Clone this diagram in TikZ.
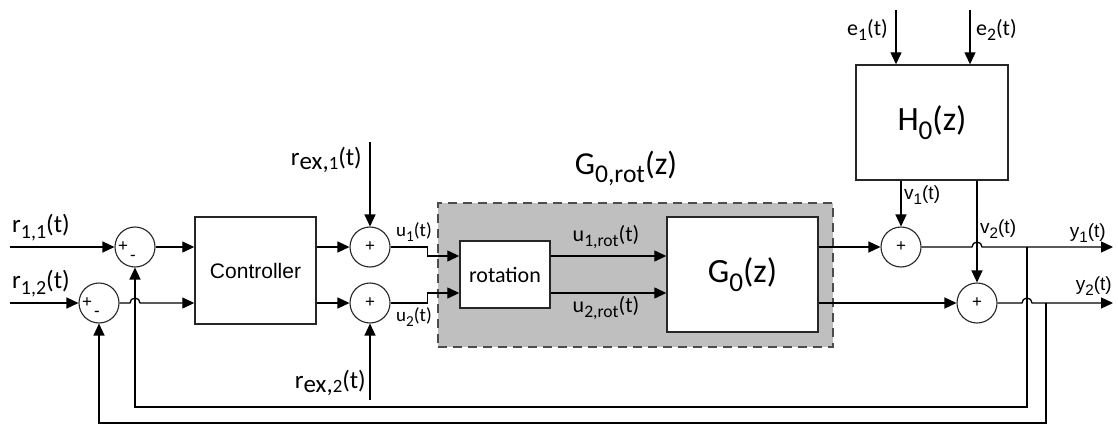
\documentclass[tikz,border=0pt]{standalone}
\usepackage{fontspec}
\setmainfont{Carlito}
\newfontfamily\arialfont{Liberation Sans}
\usetikzlibrary{arrows.meta, positioning, calc}

\newcommand{\fsz}[1]{\fontsize{#1}{#1}\selectfont}
\newcommand{\dn}[1]{\raisebox{-0.25em}{\scalebox{0.8}{#1}}}

\begin{document}
\begin{tikzpicture}[x=1pt, y=-1pt,
  blk/.style={draw=black!85, line width=1.4pt, fill=white, inner sep=0pt},
  sumnode/.style={draw=black!85, circle, line width=1.1pt, minimum size=40pt, inner sep=0pt, fill=white},
  sig/.style={line width=1.3pt, -{Triangle[length=12pt,width=11pt]}},
  sgn/.style={font=\arialfont\fsz{17}, inner sep=0pt},
  lbl/.style={inner sep=0pt}]
  \useasboundingbox (0,0) rectangle (1118,425);
  % shaded group
  \node[draw=black!70, fill=black!25, line width=1.6pt, dash pattern=on 9pt off 6pt,
        minimum width=395pt, minimum height=144pt] (grp) at (635.5,275) {};
  \node[lbl, font=\fsz{32}] at (626,168) {G\dn{0,rot}(z)};
  % blocks
  \node[blk, minimum width=121pt, minimum height=107pt, font=\arialfont\fsz{21}] (ctrl) at (255.5,270.5) {Controller};
  \node[blk, minimum width=90pt, minimum height=67pt, font=\fsz{22}] (rot) at (505,274.5) {rotation};
  \node[blk, minimum width=151pt, minimum height=115pt, font=\fsz{34}] (g0) at (742.5,274.5) {G\dn{0}(z)};
  \node[blk, minimum width=152pt, minimum height=115pt, font=\fsz{34}] (h0) at (932,122.5) {H\dn{0}(z)};
  % summing junctions
  \foreach \nm/\x/\y in {d11/135/247, d12/99/303, a1/370/247, a2/370/303, b1/901/247, b2/977/303}
    \node[sumnode] (\nm) at (\x,\y) {};
  \foreach \nm in {a1, a2, b1, b2}
    \node[sgn] at (\nm) {+};
  \foreach \nm in {d11, d12} {
    \node[sgn] at ([xshift=-12pt]\nm.center) {+};
    \node[sgn] at ([xshift=-2pt,yshift=-11pt]\nm.center) {-};
  }
  % reference inputs
  \coordinate (r11) at (10,247);
  \coordinate (r12) at (10,303);
  \draw[sig] (r11) -- (d11);
  \draw[sig] (r12) -- (d12);
  \node[lbl, font=\fsz{25}, anchor=west] at (12,228) {r\dn{1,1}(t)};
  \node[lbl, font=\fsz{25}, anchor=west] at (12,284) {r\dn{1,2}(t)};
  % controller
  \draw[sig] (d11) -- (d11 -| ctrl.west);
  \draw[sig] (d12) -- ($(d12 -| d11)+(-5,0)$) arc[start angle=180, end angle=0, radius=5pt] -- (d12 -| ctrl.west);
  \draw[sig] (ctrl.east |- a1) -- (a1);
  \draw[sig] (ctrl.east |- a2) -- (a2);
  % external references
  \coordinate (rx1) at (370,142);
  \coordinate (rx2) at (370,400);
  \draw[sig] (rx1) -- (a1);
  \draw[sig] (rx2) -- (a2);
  \node[lbl, font=\fsz{25}, anchor=east] at (362,160) {r\raisebox{-0.15em}{ex,\scalebox{0.75}{1}}(t)};
  \node[lbl, font=\fsz{25}, anchor=east] at (366,383) {r\raisebox{-0.15em}{ex,\scalebox{0.75}{2}}(t)};
  % rotation inputs
  \coordinate (ri1) at ([yshift=18.5pt]rot.west);
  \coordinate (ri2) at ([yshift=-18.5pt]rot.west);
  \draw[sig] (a1.east) -- ++(37,0) |- (ri1);
  \draw[sig] (a2.east) -- ++(37,0) |- (ri2);
  \node[lbl, font=\fsz{19}] at (414,232) {u\dn{1}(t)};
  \node[lbl, font=\fsz{19}] at (414,317) {u\dn{2}(t)};
  % rotation to plant
  \draw[sig] (ri1 -| rot.east) -- (ri1 -| g0.west);
  \draw[sig] (ri2 -| rot.east) -- (ri2 -| g0.west);
  \node[lbl, font=\fsz{22}] at (606,237) {u\dn{1,rot}(t)};
  \node[lbl, font=\fsz{22}] at (606,308) {u\dn{2,rot}(t)};
  % plant outputs
  \draw[sig] (g0.east |- b1) -- (b1);
  \draw[sig] (g0.east |- b2) -- (b2);
  % noise model
  \coordinate (e1) at (896,10);
  \coordinate (e2) at (970,10);
  \draw[sig] (e1) -- (e1 |- h0.north);
  \draw[sig] (e2) -- (e2 |- h0.north);
  \node[lbl, font=\fsz{22}, anchor=east] at (888,30) {e\dn{1}(t)};
  \node[lbl, font=\fsz{22}, anchor=west] at (976,30) {e\dn{2}(t)};
  \draw[sig] (b1 |- h0.south) -- (b1);
  \draw[sig] (b2 |- h0.south) -- (b2);
  \node[lbl, font=\arialfont\fsz{19}, anchor=west] at (904,195) {v\dn{1}(t)};
  \node[lbl, font=\arialfont\fsz{19}, anchor=west] at (980,229) {v\dn{2}(t)};
  % outputs
  \coordinate (br1) at (1027,247);
  \coordinate (br2) at (1046,303);
  \coordinate (y1) at (1113,247);
  \coordinate (y2) at (1113,303);
  \draw[sig] (b1) -- ($(b1 -| b2)+(-5,0)$) arc[start angle=180, end angle=0, radius=5pt] -- (y1);
  \draw[sig] (b2) -- ($(b2 -| br1)+(-5,0)$) arc[start angle=180, end angle=0, radius=5pt] -- (y2);
  \node[lbl, font=\arialfont\fsz{19}, anchor=east] at (1106,233) {y\dn{1}(t)};
  \node[lbl, font=\arialfont\fsz{19}, anchor=east] at (1112,286) {y\dn{2}(t)};
  % feedback
  \draw[sig] (br1) -- ++(0,160) -| (d11);
  \draw[sig] (br2) -- ++(0,120) -| (d12);
\end{tikzpicture}
\end{document}
